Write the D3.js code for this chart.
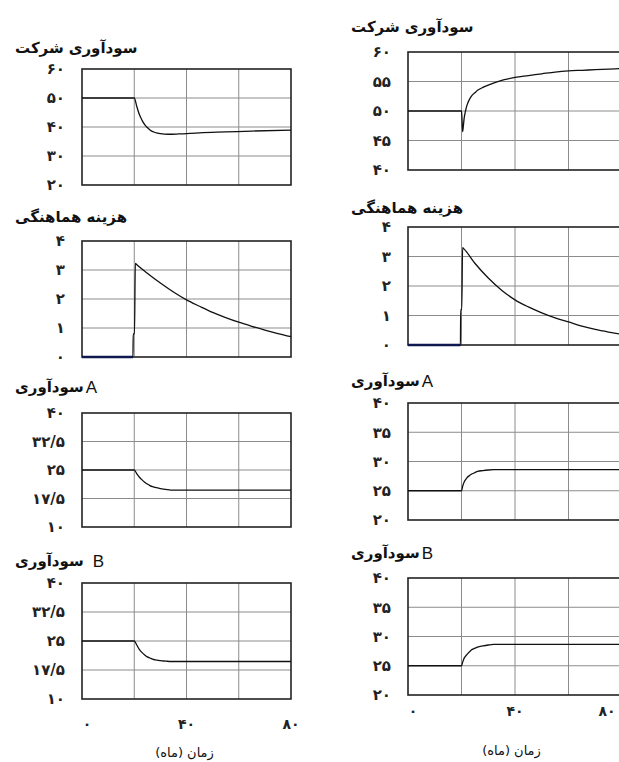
<!DOCTYPE html>
<html>
<head>
<meta charset="utf-8">
<script src="https://cdn.jsdelivr.net/npm/d3@7"></script>
<style>
    body { margin: 0; background: #fff; }
    svg  { display: block; }
</style>
</head>
<body>
<div id="chart"></div>
<script>
/* Data - time in months */

// Left column - scenario 1
var tProfitL = [0, 20, 21, 22, 23, 24, 25, 26, 28, 30, 33, 37, 45, 55, 65, 80];
var vProfitL = [50, 50, 47, 44.2, 42.3, 40.8, 39.8, 39, 38.1, 37.7, 37.5, 37.6, 38, 38.3, 38.6, 38.9];

var tCostL   = [0, 19.5, 19.6, 20.1, 20.4, 21, 25, 30, 35, 40, 45, 50, 55, 60, 65, 70, 75, 80];
var vCostL   = [0, 0, 0.8, 0.8, 3.23, 3.18, 2.89, 2.55, 2.24, 1.97, 1.75, 1.54, 1.36, 1.2, 1.06, 0.93, 0.81, 0.7];

var tAL      = [0, 20, 21, 22, 23, 24, 25, 26, 27, 28, 30, 32, 34, 80];
var vAL      = [25, 25, 24, 23.1, 22.4, 21.8, 21.3, 20.9, 20.6, 20.4, 20.1, 19.9, 19.7, 19.7];

var tBL      = [0, 20, 21, 22, 23, 24, 25, 26, 27, 28, 30, 32, 34, 80];
var vBL      = [25, 25, 23.9, 22.8, 22, 21.4, 20.9, 20.6, 20.3, 20.1, 19.9, 19.8, 19.7, 19.7];

// Right column - scenario 2
var tProfitR = [0, 20, 20.2, 20.4, 20.7, 21, 21.5, 22, 23, 24, 25, 26, 28, 30, 33, 36, 40, 45, 50, 55, 60, 65, 70, 75, 80];
var vProfitR = [50, 50, 48.5, 46.5, 47.5, 48.8, 50, 50.9, 52, 52.7, 53.1, 53.5, 54, 54.4, 54.9, 55.3, 55.7, 56, 56.3, 56.6, 56.8, 56.9, 57, 57.1, 57.2];

var tCostR   = [0, 19.6, 19.7, 20.1, 20.4, 21, 25, 30, 35, 40, 45, 50, 55, 60, 65, 70, 75, 80];
var vCostR   = [0, 0, 1.2, 1.2, 3.3, 3.25, 2.77, 2.27, 1.86, 1.53, 1.29, 1.09, 0.92, 0.78, 0.64, 0.53, 0.44, 0.36];

var tAR      = [0, 20, 20.5, 21, 22, 23, 24, 25, 26, 28, 30, 32, 80];
var vAR      = [25, 25, 25.9, 26.5, 27.2, 27.6, 27.9, 28.1, 28.3, 28.45, 28.55, 28.6, 28.6];

var tBR      = [0, 20, 20.5, 21, 22, 23, 24, 25, 26, 28, 30, 32, 80];
var vBR      = [25, 25, 25.7, 26.3, 26.9, 27.4, 27.8, 28, 28.2, 28.4, 28.55, 28.65, 28.65];

// Tick values
var ticksProfitL = [20, 30, 40, 50, 60];
var ticksProfitR = [40, 45, 50, 55, 60];
var ticksCost    = [0, 1, 2, 3, 4];
var ticksShareL  = [10, 17.5, 25, 32.5, 40];
var ticksShareR  = [20, 25, 30, 35, 40];
var ticksTime    = [0, 40, 80];
var gridTime     = [0, 20, 40, 60, 80];

// Titles, words listed in visual order (left to right)
var titleProfit = ["شرکت", "سودآوری"];
var titleCost   = ["هماهنگی", "هزینه"];
var titleA      = ["سودآوری", "A"];
var titleB      = ["سودآوری", "B"];
var titleTime   = ["(ماه)", "زمان"];

/* Layout */
var W = 619, H = 762;
var colL = {x0: 82,  x1: 291, tickX: 65,  titleX: 15};
var colR = {x0: 408, x1: 622, tickX: 391, titleX: 351};

var panels = [
    {col: colL, y0: 69,  y1: 185, t: tProfitL, v: vProfitL, ticks: ticksProfitL, title: titleProfit, titleY: 48},
    {col: colL, y0: 241, y1: 357, t: tCostL,   v: vCostL,   ticks: ticksCost,    title: titleCost,   titleY: 217},
    {col: colL, y0: 413, y1: 527, t: tAL,      v: vAL,      ticks: ticksShareL,  title: titleA,      titleY: 387, gap: 2},
    {col: colL, y0: 583, y1: 699, t: tBL,      v: vBL,      ticks: ticksShareL,  title: titleB,      titleY: 561, gap: 9, xAxis: {dy: 25, titleY: 752}},
    {col: colR, y0: 52,  y1: 170, t: tProfitR, v: vProfitR, ticks: ticksProfitR, title: titleProfit, titleY: 27},
    {col: colR, y0: 227, y1: 345, t: tCostR,   v: vCostR,   ticks: ticksCost,    title: titleCost,   titleY: 208},
    {col: colR, y0: 403, y1: 520, t: tAR,      v: vAR,      ticks: ticksShareR,  title: titleA,      titleY: 381, gap: 2},
    {col: colR, y0: 578, y1: 695, t: tBR,      v: vBR,      ticks: ticksShareR,  title: titleB,      titleY: 553, gap: 2, xAxis: {dy: 16, titleY: 750}}
];

var faDigits = "۰۱۲۳۴۵۶۷۸۹";
function toFa(n) {
    return String(n).replace(".", "/").replace(/\d/g, function (d) { return faDigits[+d]; });
}

// Draws words left to right as separate text nodes
function drawWords(g, words, x, y, size, weight, gap, anchorMid) {
    var wg = g.append("g"), cx = 0;
    words.forEach(function (w, i) {
        var latin = /^[A-Za-z]+$/.test(w);
        var t = wg.append("text")
            .attr("x", cx)
            .attr("y", 0)
            .attr("dy", "0.35em")
            .attr("font-size", latin ? size + 2 : size)
            .attr("font-weight", latin ? "normal" : weight)
            .attr("font-family", latin ? "'Liberation Sans', Arial, sans-serif" : null)
            .attr("fill", "#111")
            .text(w);
        cx += t.node().getComputedTextLength() + (i < words.length - 1 ? gap : 0);
    });
    wg.attr("transform", "translate(" + (anchorMid ? x - cx / 2 : x) + "," + y + ")");
}

var svg = d3.select("#chart").append("svg")
    .attr("width", W)
    .attr("height", H)
    .style("font-family", "'DejaVu Sans', sans-serif");

panels.forEach(function (p) {
    var x = d3.scaleLinear().domain([0, 80]).range([p.col.x0, p.col.x1]);
    var y = d3.scaleLinear().domain(d3.extent(p.ticks)).range([p.y1, p.y0]);
    var g = svg.append("g");

    // Grid
    g.selectAll(".gx").data(gridTime.slice(1, -1)).enter().append("line")
        .attr("x1", function (d) { return x(d); }).attr("x2", function (d) { return x(d); })
        .attr("y1", p.y0).attr("y2", p.y1)
        .attr("stroke", "#8c8c8c").attr("stroke-width", 1);
    g.selectAll(".gy").data(p.ticks.slice(1, -1)).enter().append("line")
        .attr("x1", p.col.x0).attr("x2", p.col.x1)
        .attr("y1", function (d) { return y(d); }).attr("y2", function (d) { return y(d); })
        .attr("stroke", "#8c8c8c").attr("stroke-width", 1);

    // Frame
    g.append("rect")
        .attr("x", p.col.x0).attr("y", p.y0)
        .attr("width", p.col.x1 - p.col.x0).attr("height", p.y1 - p.y0)
        .attr("fill", "none").attr("stroke", "#222").attr("stroke-width", 1.6);

    // Y tick labels
    g.selectAll(".ty").data(p.ticks).enter().append("text")
        .attr("x", p.col.tickX)
        .attr("y", function (d) { return y(d); })
        .attr("dy", "0.35em")
        .attr("text-anchor", "end")
        .attr("font-size", 15)
        .attr("font-weight", "bold")
        .attr("fill", "#222")
        .text(toFa);

    // Series
    var pts = p.t.map(function (t, i) { return [t, p.v[i]]; });
    var line = d3.line()
        .x(function (d) { return x(d[0]); })
        .y(function (d) { return y(d[1]); })
        .curve(d3.curveMonotoneX);
    g.append("path")
        .attr("d", line(pts))
        .attr("fill", "none").attr("stroke", "#111").attr("stroke-width", 1.3);
    var zero = pts.filter(function (d) { return d[1] === 0; });
    if (zero.length > 1) {
        g.append("path")
            .attr("d", line(zero))
            .attr("fill", "none").attr("stroke", "#101850").attr("stroke-width", 2.4);
    }

    // Title
    drawWords(g, p.title, p.col.titleX, p.titleY, 15, "bold", p.gap || 5, false);

    // X axis (bottom row only)
    if (p.xAxis) {
        g.selectAll(".tx").data(ticksTime).enter().append("text")
            .attr("x", function (d) { return Math.min(x(d) + (d === 0 ? 5 : 0), W - 12); })
            .attr("y", p.y1 + p.xAxis.dy)
            .attr("dy", "0.35em")
            .attr("text-anchor", "middle")
            .attr("font-size", 14)
            .attr("font-weight", "bold")
            .attr("fill", "#222")
            .text(toFa);
        drawWords(g, titleTime, (p.col.x0 + Math.min(p.col.x1, W)) / 2 - 2, p.xAxis.titleY, 13, "normal", 4, true);
    }
});
</script>
</body>
</html>
